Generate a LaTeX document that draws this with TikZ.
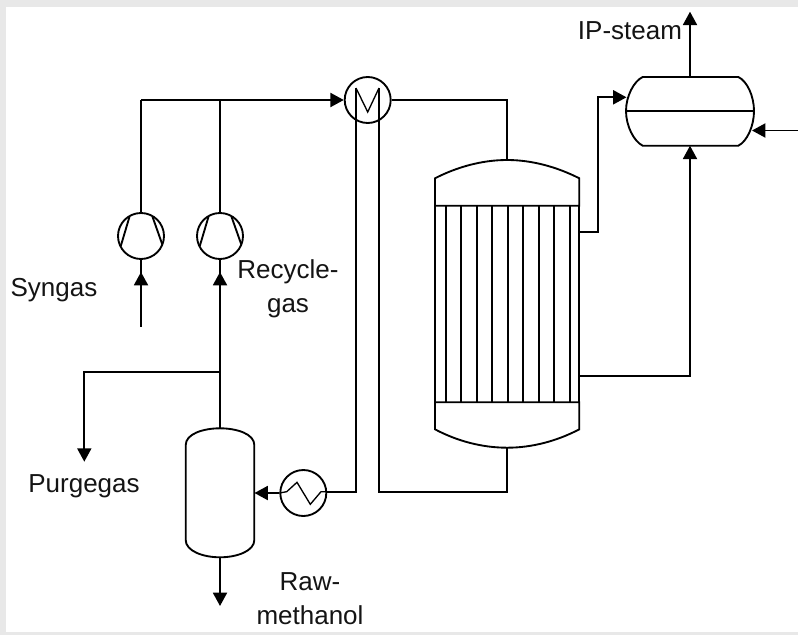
\documentclass[tikz,border=0pt]{standalone}
\usepackage{fontspec}
\setmainfont{Liberation Sans}
\usetikzlibrary{arrows.meta}
\definecolor{pagegray}{HTML}{E8E8E8}
\tikzset{
  x=0.75pt,y=-0.75pt,
  pipe/.style={line width=1.4pt,line join=miter,draw=black},
  flow/.style={pipe,-{Triangle[length=10pt,width=10.5pt]}},
  unit/.style={circle,draw=black,line width=1.4pt,minimum size=34.5pt,inner sep=0pt,fill=white},
  fine/.style={draw=black,line width=1pt},
  lbl/.style={font=\fontsize{19.5pt}{24pt}\selectfont,align=center,inner sep=0pt,text=black!92}
}
\begin{document}
\begin{tikzpicture}
\useasboundingbox (0,0) rectangle (798,635);
\fill[pagegray] (0,0) rectangle (798,635);
\fill[white] (6,7) rectangle (798,632);

% coordinates
\coordinate (feedA) at (141,326.7);
\coordinate (purgeEnd) at (84.3,461.7);
\coordinate (rawEnd) at (220,606);
\coordinate (steamEnd) at (690,11.7);
\coordinate (bfw) at (798,130.5);
\coordinate (tee) at (220,372.3);

% units
\node[unit] (c1) at (141,236) {};
\node[unit] (c2) at (220,236) {};
\node[unit] (hx) at (367.7,100) {};
\node[unit] (cool) at (303.3,493) {};

\coordinate (sepTop) at (220,428.3);
\coordinate (sepBot) at (220,557.3);
\coordinate (sepRight) at (254.5,493);
\coordinate (rTop) at (507.2,160);
\coordinate (rBot) at (507.2,447.7);
\coordinate (rOutA) at (579.3,232);
\coordinate (rOutB) at (579.3,376);
\coordinate (drumTop) at (690,77);
\coordinate (drumBot) at (690,145.7);
\coordinate (drumLeft) at (626.5,97.3);
\coordinate (drumRight) at (752,130.5);

% vessels
\draw[pipe] (185.7,445) .. controls (185.7,434) and (203,428.3) .. (220,428.3)
  .. controls (237,428.3) and (254.3,434) .. (254.3,445) -- (254.3,540)
  .. controls (254.3,551) and (237,557.3) .. (220,557.3)
  .. controls (203,557.3) and (185.7,551) .. (185.7,540) -- cycle;

\draw[pipe] (435,205.7) -- (435,178.3) .. controls (457,167) and (482,160) .. (507.2,160)
  .. controls (532,160) and (557,167) .. (579.3,178.3) -- (579.3,205.7) -- cycle;
\draw[pipe] (435,402.3) -- (435,429.3) .. controls (457,441) and (482,447.7) .. (507.2,447.7)
  .. controls (532,447.7) and (557,441) .. (579.3,429.3) -- (579.3,402.3) -- cycle;
\draw[pipe] (435,205.7) -- (435,402.3) (579.3,205.7) -- (579.3,402.3);
\foreach \x in {445.7,461.3,477,492.3,508,523.3,539,554.3,569.7}
  \draw[pipe] (\x,205.7) -- (\x,402.3);

\draw[pipe] (642.7,77) -- (738.3,77) .. controls (747,81) and (754,96) .. (754,111)
  .. controls (754,126) and (747,141.5) .. (738.3,145.7) -- (642.7,145.7)
  .. controls (634,141.5) and (626,126) .. (626,111)
  .. controls (626,96) and (634,81) .. (642.7,77) -- cycle;
\draw[pipe] (626,111) -- (754,111);

% compressor blades
\foreach \cx in {141,220}{
  \draw[pipe] (\cx-11.5,216.7) -- (\cx-20.2,246);
  \draw[pipe] (\cx+11.5,216.7) -- (\cx+21.3,244.5);
}

% exchanger inner tube
\draw[pipe] (356,491.7) -- (356,122) (379,122) -- (379,491.7) -- (507.2,491.7) -- (rBot);
\draw[pipe] (356,122) -- (356,88) (379,88) -- (379,122);
\draw[fine] (356,88) -- (367.7,112) -- (379,88);
\draw[pipe] (cool.east |- 0,491.7) -- (356.7,491.7);
% cooler zigzag
\draw[fine] (cool.west) -- (286.7,491.7) -- (297,482.3) -- (310.3,504.3) -- (321,491.7) -- (cool.east |- 0,491.7);

% connectors
\draw[pipe] (hx.east) -- (507.2,100) -- (rTop);
\draw[pipe] (c1.north) -- (141,100);
\draw[pipe] (c2.north) -- (220,100);
\draw[flow] (141,100) -- (hx.west);
\draw[pipe] (feedA) -- (c1.south);
\draw[flow] (feedA) -- (141,272);
\draw[pipe] (sepTop) -- (c2.south);
\draw[flow] (sepTop) -- (220,272);
\draw[flow] (tee) -- (84.3,372.3) -- (purgeEnd);
\draw[flow] (cool.west) -- (sepRight);
\draw[flow] (sepBot) -- (rawEnd);
\draw[flow] (drumTop) -- (steamEnd);
\draw[flow] (bfw) -- (drumRight);
\draw[flow] (rOutA) -- (598.3,232) -- (598.3,97.3) -- (drumLeft);
\draw[flow] (rOutB) -- (690,376) -- (drumBot);

% labels
\node[lbl] (tSyn) at (54,290) {Syngas};
\node[lbl] (tRec) at (288,289) {Recycle-\\[1.5pt]gas};
\node[lbl] (tPur) at (84,486) {Purgegas};
\node[lbl] (tRaw) at (310,598.5) {Raw-\\[1.5pt]methanol};
\node[lbl] (tIP) at (630,30.5) {IP-steam};
\end{tikzpicture}
\end{document}
